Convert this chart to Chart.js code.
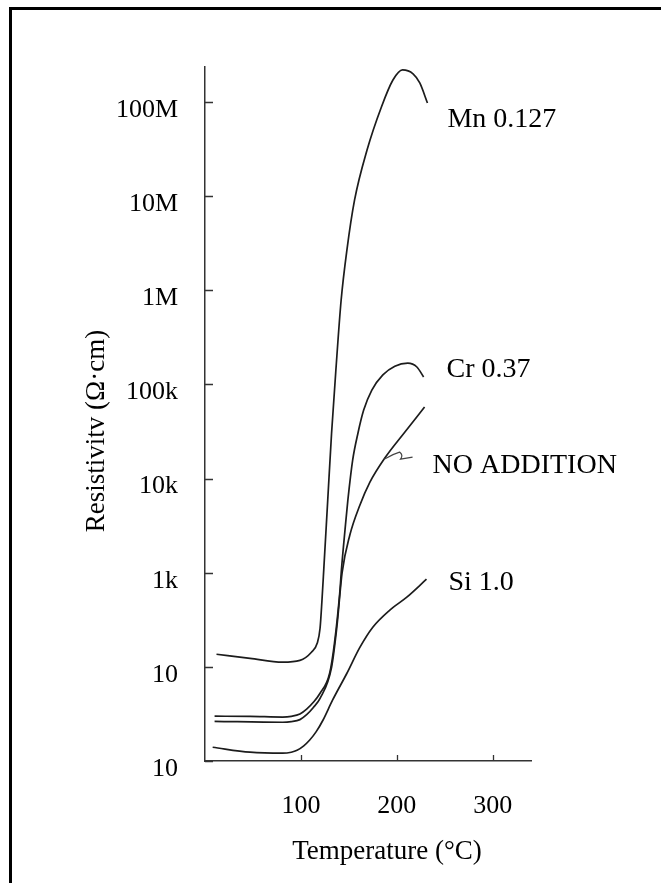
<!DOCTYPE html>
<html>
  <head>
    <title>Resistivity vs Temperature</title>
    <script src="https://cdn.jsdelivr.net/npm/chart.js"></script>
    <style>
      body { margin: 0; background: #fff; }
    </style>
  </head>
  <body>
    <canvas id="myChart" width="661" height="883"></canvas>
    <script>
      // values: temperature (°C) and resistivity (Ω·cm)
      const mnTemp = [12, 47, 81, 99, 111, 117, 120, 122, 124, 128, 132, 136.5, 142, 148, 156, 169, 184, 196, 206, 217, 224, 232];
      const mnRes = [136, 123, 112, 117, 143, 178, 257, 510, 1140, 5890, 30300, 142000, 787000, 2.67e6, 9.1e6, 3.09e7, 8.85e7, 1.71e8, 2.19e8, 1.99e8, 1.59e8, 9.75e7];

      const crTemp = [10, 47, 81, 90, 99, 106, 113, 120, 130, 135, 140.5, 142.5, 146, 149, 154, 159.5, 165.5, 174, 185.5, 198, 211.5, 221, 228];
      const crRes = [29.9, 29.8, 29.3, 29.8, 31.5, 35.5, 42, 52.4, 85.5, 178, 605, 1140, 2830, 5890, 15700, 30300, 53300, 86900, 126000, 156000, 168000, 153000, 120000];

      const naTemp = [10, 81, 90, 99, 106, 113, 120, 132, 137.5, 143, 151, 161.5, 172, 187.5, 208.3, 229];
      const naRes = [26.4, 25.8, 26.2, 27.5, 31, 37, 46.3, 99, 264, 1000, 2500, 5210, 9160, 16500, 31100, 57400];

      const siTemp = [8, 47, 81, 90, 96, 103, 109, 116, 123, 133, 148, 161.5, 175, 192.5, 210.5, 231];
      const siRes = [14.0, 12.4, 12.1, 12.4, 13.0, 14.5, 16.6, 20.5, 27.1, 44.2, 85.5, 161, 264, 399, 550, 853];

      const seriesNames = ["Mn 0.127", "Cr 0.37", "NO ADDITION", "Si 1.0"];
      const xTickValues = [100, 200, 300];
      const yTickValues = [1e1, 1e2, 1e3, 1e4, 1e5, 1e6, 1e7, 1e8];
      const yTickLabels = ["10", "10", "1k", "10k", "100k", "1M", "10M", "100M"];
      const xTitle = "Temperature (°C)";
      const yTitle = "Resistivitv (Ω·cm)";

      const serif = "'Liberation Serif', 'Times New Roman', serif";
      const ink = "#1c1c1c";

      function toPoints(temps, values) {
        return temps.map((t, i) => ({ x: t, y: values[i] }));
      }

      const allSeries = [
        toPoints(mnTemp, mnRes),
        toPoints(crTemp, crRes),
        toPoints(naTemp, naRes),
        toPoints(siTemp, siRes),
      ];

      // label offsets from each curve's last point (px)
      const labelShift = [[20, 24], [23, 0], [8, 66], [22, 11]];

      const scanDecor = {
        id: "scanDecor",
        beforeDraw(chart) {
          const ctx = chart.ctx;
          ctx.save();
          ctx.fillStyle = "#fff";
          ctx.fillRect(0, 0, chart.width, chart.height);
          ctx.restore();
        },
        afterDraw(chart) {
          const ctx = chart.ctx;
          const area = chart.chartArea;
          const xs = chart.scales.x;
          const ys = chart.scales.y;
          ctx.save();

          // frame of the scanned page
          ctx.strokeStyle = "#000";
          ctx.lineWidth = 3;
          ctx.beginPath();
          ctx.moveTo(10.5, chart.height + 5);
          ctx.lineTo(10.5, 8.5);
          ctx.lineTo(chart.width + 5, 8.5);
          ctx.stroke();

          // inward tick marks
          ctx.strokeStyle = "#333";
          ctx.lineWidth = 1.3;
          ctx.beginPath();
          yTickValues.forEach((v) => {
            const py = Math.round(ys.getPixelForValue(v)) + 0.5;
            ctx.moveTo(area.left, py);
            ctx.lineTo(area.left + 8, py);
          });
          xTickValues.forEach((v) => {
            const px = Math.round(xs.getPixelForValue(v)) + 0.5;
            ctx.moveTo(px, area.bottom);
            ctx.lineTo(px, area.bottom - 6);
          });
          ctx.stroke();

          // curve labels
          ctx.fillStyle = "#000";
          ctx.font = "28px " + serif;
          ctx.textAlign = "left";
          ctx.textBaseline = "alphabetic";
          allSeries.forEach((pts, i) => {
            const last = pts[pts.length - 1];
            const lx = xs.getPixelForValue(last.x) + labelShift[i][0];
            const ly = ys.getPixelForValue(last.y) + labelShift[i][1];
            ctx.fillText(seriesNames[i], lx, ly);
            if (i === 2) {
              // little hand-drawn pointer to the NO ADDITION curve
              ctx.strokeStyle = "#444";
              ctx.lineWidth = 1.2;
              ctx.beginPath();
              ctx.moveTo(lx - 48, ly - 14);
              ctx.quadraticCurveTo(lx - 40, ly - 19, lx - 33, ly - 21);
              ctx.quadraticCurveTo(lx - 29, ly - 18, lx - 32, ly - 14);
              ctx.quadraticCurveTo(lx - 26, ly - 15, lx - 20, ly - 16);
              ctx.stroke();
            }
          });

          // axis titles
          ctx.font = "27px " + serif;
          ctx.textAlign = "center";
          ctx.fillText(xTitle, area.left + 182, area.bottom + 98);
          ctx.translate(97, area.top + 364);
          ctx.rotate(-Math.PI / 2);
          ctx.textBaseline = "middle";
          ctx.fillText(yTitle, 0, 0);

          ctx.restore();
        },
      };

      const config = {
        type: "scatter",
        data: {
          datasets: allSeries.map((pts, i) => ({
            label: seriesNames[i],
            data: pts,
            showLine: true,
            borderColor: ink,
            borderWidth: 1.7,
            pointRadius: 0,
            cubicInterpolationMode: "monotone",
            fill: false,
          })),
        },
        options: {
          responsive: false,
          animation: false,
          layout: {
            padding: { top: 67, right: 130, bottom: 0, left: 0 },
          },
          plugins: {
            legend: { display: false },
            tooltip: { enabled: false },
          },
          scales: {
            x: {
              type: "linear",
              min: 0,
              max: 340,
              afterFit(scale) {
                scale.height = 122;
              },
              afterBuildTicks(scale) {
                scale.ticks = xTickValues.map((v) => ({ value: v }));
              },
              grid: { display: false },
              border: { display: true, color: "#333", width: 1.5 },
              ticks: {
                color: "#000",
                padding: 22,
                maxRotation: 0,
                font: { family: serif, size: 26 },
                callback: (v) => String(v),
              },
            },
            y: {
              type: "logarithmic",
              min: 10,
              max: 2.35e8,
              afterFit(scale) {
                scale.width = 205;
              },
              afterBuildTicks(scale) {
                scale.ticks = yTickValues.map((v) => ({ value: v }));
              },
              grid: { display: false },
              border: { display: true, color: "#333", width: 1.5 },
              ticks: {
                color: "#000",
                padding: 19,
                labelOffset: 8,
                font: { family: serif, size: 26 },
                callback: (v) => {
                  const i = yTickValues.findIndex((t) => Math.abs(t - v) < t * 1e-6);
                  return i >= 0 ? yTickLabels[i] : "";
                },
              },
            },
          },
        },
        plugins: [scanDecor],
      };

      var myChart = new Chart(document.getElementById("myChart"), config);
    </script>
  </body>
</html>
